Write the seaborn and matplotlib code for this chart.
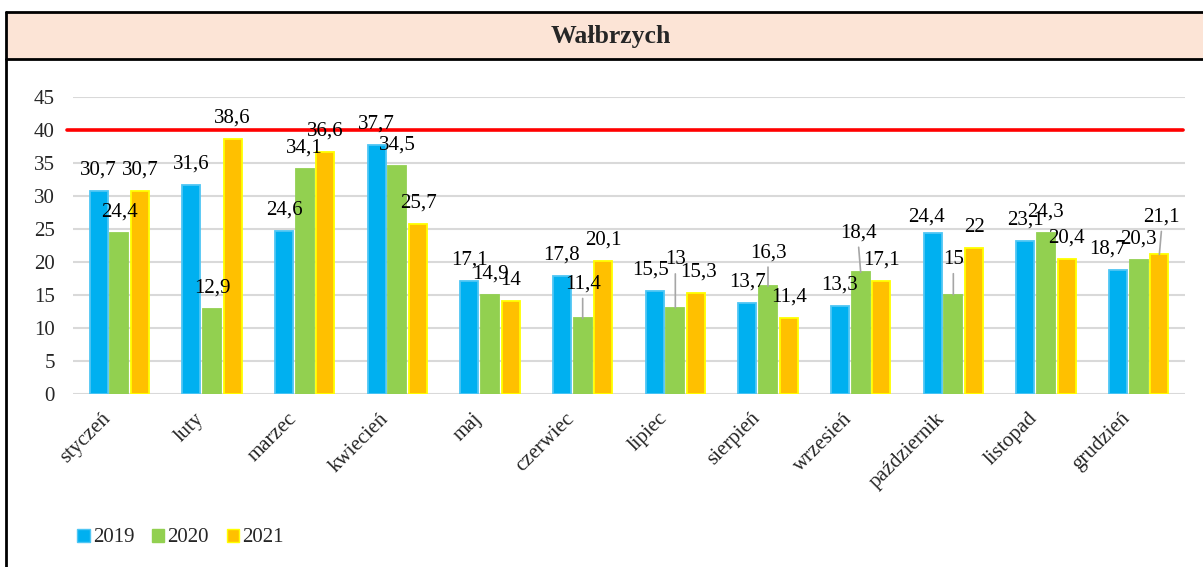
import matplotlib
matplotlib.use("Agg")
import matplotlib.pyplot as plt
import matplotlib.transforms as mtransforms
from matplotlib.lines import Line2D
from matplotlib.patches import Rectangle, Patch
import seaborn as sns
import pandas as pd

months = ["styczeń", "luty", "marzec", "kwiecień", "maj", "czerwiec",
          "lipiec", "sierpień", "wrzesień", "październik", "listopad", "grudzień"]
years = ["2019", "2020", "2021"]
v2019 = [30.7, 31.6, 24.6, 37.7, 17.1, 17.8, 15.5, 13.7, 13.3, 24.4, 23.1, 18.7]
v2020 = [24.4, 12.9, 34.1, 34.5, 14.9, 11.4, 13.0, 16.3, 18.4, 15.0, 24.3, 20.3]
v2021 = [30.7, 38.6, 36.6, 25.7, 14.0, 20.1, 15.3, 11.4, 17.1, 22.0, 20.4, 21.1]
limit = 40
yticks = [0, 5, 10, 15, 20, 25, 30, 35, 40, 45]
title = "Wałbrzych"

colors = {"2019": "#00B0F0", "2020": "#92D050", "2021": "#FFC000"}
edges = {"2019": "#4FC6F4", "2020": "#92D050", "2021": "#FFFF00"}

# label position tweaks (pixels): (dx, dy up, leader line)
label_adjust = {
    ("czerwiec", "2020"): (0, 13, True),
    ("lipiec", "2019"): (-4, 0, False),
    ("lipiec", "2020"): (0, 27, True),
    ("lipiec", "2021"): (3, 0, False),
    ("sierpień", "2020"): (0, 12, True),
    ("wrzesień", "2020"): (-2, 18, True),
    ("październik", "2019"): (-6, -5, False),
    ("październik", "2020"): (0, 14, True),
    ("grudzień", "2019"): (-10, 0, False),
    ("grudzień", "2021"): (2, 16, True),
}

df = pd.DataFrame({
    "month": months * 3,
    "year": [y for y in years for _ in months],
    "value": v2019 + v2020 + v2021,
})

sns.set_theme(style="white")
plt.rcParams["font.family"] = ["Liberation Serif", "DejaVu Serif"]

FS = 15
W, H = 1203, 567
fig = plt.figure(figsize=(W / 100, H / 100), dpi=100)
ax = fig.add_axes([73 / W, 1 - 393.7 / H, (1185 - 73) / W, (393.7 - 96.7) / H])

sns.barplot(data=df, x="month", y="value", hue="year", order=months, hue_order=years,
            palette=colors, width=0.67, gap=0.12, saturation=1, ax=ax, legend=False)

for cont, yr in zip(ax.containers, years):
    for bar in cont:
        bar.set_edgecolor(edges[yr])
        bar.set_linewidth(1.3)
    for bar, m in zip(cont, months):
        h = bar.get_height()
        cx = bar.get_x() + bar.get_width() / 2
        dx, dy, leader = label_adjust.get((m, yr), (0, 0, False))
        txt = f"{h:g}".replace(".", ",")
        ax.annotate(txt, xy=(cx, h), xytext=(dx, 21 + dy), textcoords="offset pixels",
                    ha="center", va="center", fontsize=FS, color="black", zorder=6)
        if leader:
            ax.annotate("", xy=(cx, h), xytext=(dx, 21 + dy - 14), textcoords="offset pixels",
                        arrowprops=dict(arrowstyle="-", color="#A6A6A6", lw=1.2,
                                        shrinkA=0, shrinkB=0), zorder=5)

ax.axhline(limit, xmin=-0.005, xmax=0.998, color="#FF0000", lw=2.6, clip_on=False, zorder=4)

ax.set_ylim(0, 45)
ax.set_xlim(-0.5, len(months) - 0.5)
ax.set_yticks(yticks)
ax.yaxis.grid(True, color="#D9D9D9", lw=1.5)
ax.set_axisbelow(True)
for s in ax.spines.values():
    s.set_visible(False)
ax.set_xlabel("")
ax.set_ylabel("")
ax.tick_params(axis="y", length=0, pad=13, labelsize=FS)
ax.tick_params(axis="x", length=0, pad=16, labelsize=FS)
offset = mtransforms.ScaledTranslation(-11 / 100, 0, fig.dpi_scale_trans)
for lab in ax.get_xticklabels():
    lab.set_rotation(45)
    lab.set_ha("right")
    lab.set_va("center")
    lab.set_rotation_mode("anchor")
    lab.set_transform(lab.get_transform() + offset)

# frame and title band
def fx(px):
    return px / W
def fy(py):
    return 1 - py / H

fig.patches.append(Rectangle((fx(6), fy(59)), 1.0, fy(12) - fy(59),
                             transform=fig.transFigure, facecolor="#FCE4D6", edgecolor="none", zorder=0))
for xs, ys in [((6, 1210), (12, 12)), ((6, 1210), (59, 59)), ((6, 6), (12, 570))]:
    fig.add_artist(Line2D([fx(xs[0]), fx(xs[1])], [fy(ys[0]), fy(ys[1])],
                          transform=fig.transFigure, color="black", lw=2.0))
fig.text(fx(611), fy(36), title, ha="center", va="center", fontsize=18.5, weight="bold")

handles = [Patch(facecolor=colors[y], edgecolor=edges[y], lw=1.0) for y in years]
fig.legend(handles, years, loc="center left", bbox_to_anchor=(fx(77), fy(538)),
           ncol=3, frameon=False, fontsize=FS, handlelength=0.6, handleheight=0.6,
           handletextpad=0.15, columnspacing=0.85, borderpad=0, borderaxespad=0)

fig.savefig("out.png", dpi=100)
